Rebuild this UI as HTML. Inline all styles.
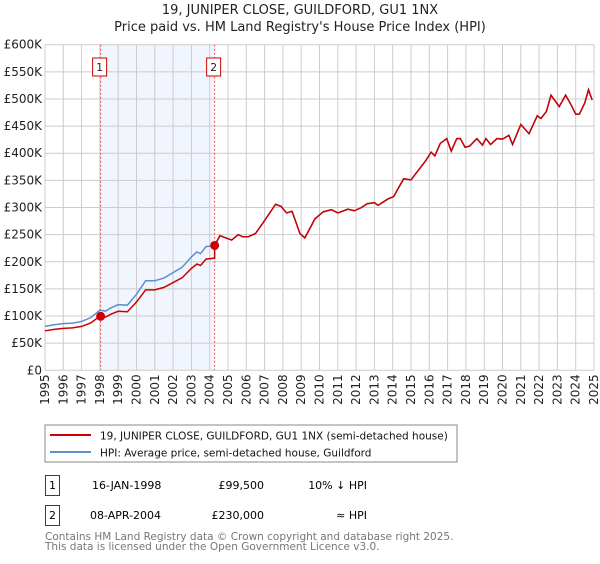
<!DOCTYPE html>
<html><head><meta charset="utf-8">
<style>
body{margin:0;background:#fff;font-family:"DejaVu Sans","Liberation Sans",sans-serif;}
svg text{font-family:"DejaVu Sans","Liberation Sans",sans-serif;}
</style></head>
<body>
<svg id="chart" width="600" height="560" xmlns="http://www.w3.org/2000/svg">
<text x="300" y="14" text-anchor="middle" font-size="13" fill="#222">19, JUNIPER CLOSE, GUILDFORD, GU1 1NX</text>
<text x="300" y="31" text-anchor="middle" font-size="13" fill="#222">Price paid vs. HM Land Registry's House Price Index (HPI)</text>
<g id="grid"></g>
<g id="series"></g>
<g id="axes"></g>
<rect x="45" y="425" width="412" height="37" fill="#fff" stroke="#888"/>
<line x1="50" y1="435" x2="91" y2="435" stroke="#cc0000" stroke-width="2"/>
<text x="100" y="439.5" font-size="10.5" fill="#111">19, JUNIPER CLOSE, GUILDFORD, GU1 1NX (semi-detached house)</text>
<line x1="50" y1="452" x2="91" y2="452" stroke="#5b8fd0" stroke-width="2"/>
<text x="100" y="456.5" font-size="10.5" fill="#111">HPI: Average price, semi-detached house, Guildford</text>
<g>
<rect x="45.5" y="475.5" width="14" height="20" fill="#fff" stroke="#cc0000"/>
<text x="52.5" y="489" text-anchor="middle" font-size="11">1</text>
<text x="92" y="489" font-size="11">16-JAN-1998</text>
<text x="264" y="489" text-anchor="end" font-size="11">£99,500</text>
<text x="367" y="489" text-anchor="end" font-size="11">10% ↓ HPI</text>
</g>
<g>
<rect x="45.5" y="505.5" width="14" height="20" fill="#fff" stroke="#cc0000"/>
<text x="52.5" y="519" text-anchor="middle" font-size="11">2</text>
<text x="90" y="519" font-size="11">08-APR-2004</text>
<text x="264" y="519" text-anchor="end" font-size="11">£230,000</text>
<text x="367" y="519" text-anchor="end" font-size="11">≈ HPI</text>
</g>
<text x="45" y="540" font-size="10.5" fill="#777">Contains HM Land Registry data © Crown copyright and database right 2025.</text>
<text x="45" y="550" font-size="10.5" fill="#777">This data is licensed under the Open Government Licence v3.0.</text>
</svg>
<script>
const yTicks=[0,50,100,150,200,250,300,350,400,450,500,550,600];
const yTickLabels=["£0","£50K","£100K","£150K","£200K","£250K","£300K","£350K","£400K","£450K","£500K","£550K","£600K"];
const xYears=[1995,1996,1997,1998,1999,2000,2001,2002,2003,2004,2005,2006,2007,2008,2009,2010,2011,2012,2013,2014,2015,2016,2017,2018,2019,2020,2021,2022,2023,2024,2025];
const hpiT=[1995,1995.5,1996,1996.5,1997,1997.5,1998,1998.3,1998.6,1999,1999.5,2000,2000.5,2001,2001.5,2002,2002.5,2003,2003.3,2003.5,2003.8,2004.27,2004.56,2005.2,2005.56,2005.8,2006.1,2006.5,2006.9,2007.6,2007.9,2008.2,2008.5,2008.93,2009.2,2009.75,2010.2,2010.65,2011.0,2011.55,2011.9,2012.3,2012.6,2013.0,2013.2,2013.75,2014.05,2014.6,2015.0,2015.8,2016.1,2016.3,2016.6,2016.95,2017.2,2017.5,2017.7,2017.95,2018.2,2018.6,2018.9,2019.1,2019.35,2019.7,2020.0,2020.35,2020.55,2021.0,2021.45,2021.9,2022.1,2022.4,2022.65,2023.1,2023.45,2023.75,2024.0,2024.2,2024.5,2024.7,2024.9];
const hpiV=[81,84,86,87,90,97,111,109,115,121,120,140,165,165,170,180,190,209,218,215,228,230,248,240,250,246,246,252,271,306,302,290,293,252,244,279,292,296,290,297,294,300,307,309,304,316,320,353,351,386,402,395,418,427,404,427,427,411,413,427,415,427,416,427,426,433,416,453,436,469,464,477,507,486,507,489,472,472,493,517,498];
const saleT=[1998.04,2004.27];
const saleV=[99.5,230];
const saleLabels=["1","2"];
const X0=45,X1=594,Y0=370.3,Y1=44.7;
const xs=t=>X0+(t-1995)/30*(X1-X0);
const ys=v=>Y0-(v/600)*(Y0-Y1);
const NS="http://www.w3.org/2000/svg";
function mk(tag,attrs,parent){const e=document.createElementNS(NS,tag);for(const k in attrs)e.setAttribute(k,attrs[k]);parent.appendChild(e);return e;}
const grid=document.getElementById('grid'),axes=document.getElementById('axes'),ser=document.getElementById('series');
const shade=mk('rect',{x:xs(saleT[0]),y:Y1,width:xs(saleT[1])-xs(saleT[0]),height:Y0-Y1,fill:'#eef3fc',opacity:0.8},grid);


yTicks.forEach((v,i)=>{
 const l=mk('line',{x1:X0,x2:X1,y1:ys(v),y2:ys(v),stroke:'#ccc'},grid);
 
 
 const t=mk('text',{x:X0-3,y:ys(v)+4,'text-anchor':'end','font-size':12,fill:'#222'},axes);
 t.textContent=yTickLabels[i];
 
 
});
xYears.forEach(yr=>{
 const l=mk('line',{x1:xs(yr),x2:xs(yr),y1:Y1,y2:Y0,stroke:'#ccc'},grid);
 
 
 const t=mk('text',{x:0,y:0,'text-anchor':'end','font-size':12,fill:'#222',transform:`translate(${xs(yr)+4},${Y0+4}) rotate(-90)`},axes);
 t.textContent=yr;
 
 
});
function hpiAt(t){for(let i=1;i<hpiT.length;i++){if(t<=hpiT[i]){const f=(t-hpiT[i-1])/(hpiT[i]-hpiT[i-1]);return hpiV[i-1]+f*(hpiV[i]-hpiV[i-1]);}}return hpiV[hpiV.length-1];}
saleT.forEach((t,i)=>{
 const l=mk('line',{x1:xs(t),x2:xs(t),y1:Y1,y2:Y0,stroke:'#e55','stroke-dasharray':'2,2'},grid);
 
 
 const b=mk('rect',{x:xs(t)-8,y:58,width:14,height:18,fill:'#fff',stroke:'#cc0000'},grid);
 
 
 const tx=mk('text',{x:xs(t)-1,y:71,'text-anchor':'middle','font-size':11,fill:'#222'},grid);
 tx.textContent=saleLabels[i];
 
 
});
const hp=mk('polyline',{points:hpiT.map((t,i)=>xs(t)+','+ys(hpiV[i])).join(' '),fill:'none',stroke:'#5b8fd0','stroke-width':1.5},ser);


const r1=saleV[0]/hpiAt(saleT[0]),r2=saleV[1]/hpiAt(saleT[1]);
const pts=[];
hpiT.forEach((t,i)=>{ if(t<saleT[1]) pts.push([t,hpiV[i]*r1]); });
pts.push([saleT[1],hpiAt(saleT[1])*r1]);
pts.push([saleT[1],saleV[1]]);
hpiT.forEach((t,i)=>{ if(t>saleT[1]) pts.push([t,hpiV[i]*r2]); });
const pp=mk('polyline',{points:pts.map(p=>xs(p[0])+','+ys(p[1])).join(' '),fill:'none',stroke:'#cc0000','stroke-width':1.5},ser);


saleT.forEach((t,i)=>{
 const c=mk('circle',{cx:xs(t),cy:ys(saleV[i]),r:4.5,fill:'#cc0000'},ser);
 
 
});
</script>
</body></html>
